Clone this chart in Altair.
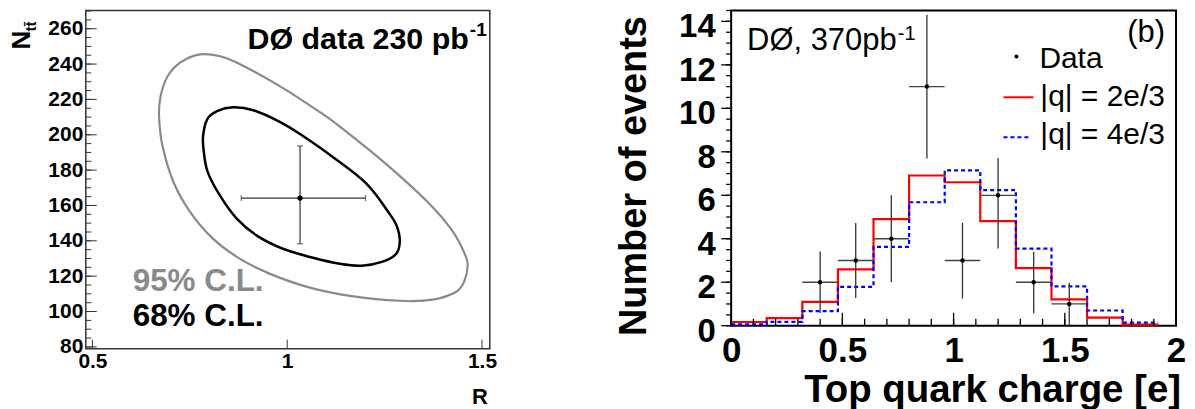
import altair as alt
import pandas as pd

F = "Liberation Sans"

# ---------------- Left panel data (R vs N_ttbar contours) ----------------
outer_R = [0.777, 0.726, 0.693, 0.675, 0.671, 0.680, 0.708, 0.751, 0.810, 0.879, 0.956,
           1.058, 1.161, 1.289, 1.373, 1.434, 1.455, 1.463, 1.458, 1.424, 1.358, 1.245,
           1.127, 1.084, 0.982, 0.879, 0.828]
outer_N = [245.5, 241.0, 233.1, 221.8, 210.5, 193.6, 173.3, 156.3, 141.1, 129.8, 121.3,
           113.5, 108.9, 106.1, 106.7, 111.2, 117.4, 125.3, 131.5, 145.6, 162.5, 185.1,
           206.0, 212.8, 227.4, 239.9, 244.4]
inner_R = [0.861, 0.820, 0.795, 0.784, 0.786, 0.796, 0.828, 0.871, 0.923, 0.989, 1.066,
           1.135, 1.191, 1.245, 1.280, 1.289, 1.281, 1.263, 1.204, 1.117, 1.033, 0.982,
           0.913]
inner_N = [215.6, 213.4, 208.9, 199.2, 190.2, 178.9, 165.4, 152.4, 142.8, 135.5, 130.4,
           127.0, 125.9, 128.2, 132.7, 140.0, 148.5, 155.2, 172.2, 187.4, 200.4, 207.2,
           213.9]
fit_R = [1.033]
fit_N = [164.2]
fit_R_lo = [0.882]
fit_R_hi = [1.201]
fit_N_lo = [138.3]
fit_N_hi = [193.7]
left_x_ticks = [0.5, 1.0, 1.5]
left_y_ticks = [80, 100, 120, 140, 160, 180, 200, 220, 240, 260]
left_y_minor = [80, 85, 90, 95, 100, 105, 110, 115, 120, 125, 130, 135, 140, 145, 150, 155,
                160, 165, 170, 175, 180, 185, 190, 195, 200, 205, 210, 215, 220, 225, 230,
                235, 240, 245, 250, 255, 260, 265, 270]

# ---------------- Right panel data (top quark charge) ----------------
edges = [0.0, 0.16, 0.32, 0.48, 0.64, 0.80, 0.96, 1.12, 1.28, 1.44, 1.60, 1.76, 1.92]
red_vals = [0.17, 0.35, 1.10, 2.59, 4.90, 6.91, 6.60, 4.81, 2.65, 1.21, 0.37, 0.05]
blue_vals = [0.06, 0.18, 0.67, 1.79, 3.63, 5.68, 7.15, 6.24, 3.55, 1.81, 0.70, 0.14]
data_x = [0.40, 0.56, 0.72, 0.88, 1.04, 1.20, 1.36, 1.52]
data_x_lo = [0.32, 0.48, 0.64, 0.80, 0.96, 1.12, 1.28, 1.44]
data_x_hi = [0.48, 0.64, 0.80, 0.96, 1.12, 1.28, 1.44, 1.60]
data_y = [2, 3, 4, 11, 3, 6, 2, 1]
data_lo = [0.59, 1.27, 2.0, 7.69, 1.25, 3.55, 0.57, 0.0]
data_hi = [3.41, 4.73, 6.0, 14.3, 4.73, 7.72, 3.39, 1.98]
right_x_ticks = [0, 0.5, 1, 1.5, 2]
right_x_minor = [0, 0.1, 0.2, 0.3, 0.4, 0.5, 0.6, 0.7, 0.8, 0.9, 1.0, 1.1, 1.2, 1.3, 1.4,
                 1.5, 1.6, 1.7, 1.8, 1.9, 2.0]
right_y_ticks = [0, 2, 4, 6, 8, 10, 12, 14]
right_y_minor = [0, 0.5, 1, 1.5, 2, 2.5, 3, 3.5, 4, 4.5, 5, 5.5, 6, 6.5, 7, 7.5, 8, 8.5, 9,
                 9.5, 10, 10.5, 11, 11.5, 12, 12.5, 13, 13.5, 14, 14.5]

# ---------------- geometry ----------------
LW, LH = 405, 339
RW, RH = 446, 316


def txt(s, x, y, size, weight="normal", align="left", color="black", angle=0):
    return alt.Chart(pd.DataFrame({"t": [s]})).mark_text(
        font=F, fontSize=size, fontWeight=weight, align=align, baseline="alphabetic",
        color=color, angle=angle
    ).encode(x=alt.value(x), y=alt.value(y), text="t:N")


def yticks(vals, scale, x1, x2, color="black", w=1.0):
    return alt.Chart(pd.DataFrame({"v": vals})).mark_rule(color=color, strokeWidth=w).encode(
        y=alt.Y("v:Q", scale=scale, axis=None), x=alt.value(x1), x2=alt.value(x2))


def xticks(vals, scale, y1, y2, color="black", w=1.0):
    return alt.Chart(pd.DataFrame({"v": vals})).mark_rule(color=color, strokeWidth=w).encode(
        x=alt.X("v:Q", scale=scale, axis=None), y=alt.value(y1), y2=alt.value(y2))


# ================= LEFT PANEL =================
xL = alt.Scale(domain=[0.483, 1.52], nice=False, zero=False)
yL = alt.Scale(domain=[79, 270.3], nice=False, zero=False)

outer_df = pd.DataFrame({"R": outer_R, "N": outer_N, "i": list(range(len(outer_R)))})
inner_df = pd.DataFrame({"R": inner_R, "N": inner_N, "i": list(range(len(inner_R)))})
fit_df = pd.DataFrame({"R": fit_R, "N": fit_N, "Rlo": fit_R_lo, "Rhi": fit_R_hi,
                       "Nlo": fit_N_lo, "Nhi": fit_N_hi})

lab_x_L = alt.Axis(values=left_x_ticks, ticks=False, tickSize=0, domain=False, grid=False,
                   labelFont=F, labelFontSize=21, labelFontWeight="bold", labelColor="black",
                   labelPadding=2, labelFlush=False, labelOverlap=False, title=None,
                   format="~g")
lab_y_L = alt.Axis(values=left_y_ticks, ticks=False, tickSize=0, domain=False, grid=False,
                   labelFont=F, labelFontSize=21, labelFontWeight="bold", labelColor="black",
                   labelPadding=3, labelFlush=False, labelOverlap=False, title=None)

outer = alt.Chart(outer_df).mark_line(interpolate="cardinal-closed", color="#8a8a8a",
                                      strokeWidth=2.2).encode(
    x=alt.X("R:Q", scale=xL, axis=lab_x_L),
    y=alt.Y("N:Q", scale=yL, axis=lab_y_L),
    order="i:Q",
)
inner = alt.Chart(inner_df).mark_line(interpolate="cardinal-closed", color="black",
                                      strokeWidth=2.5).encode(
    x=alt.X("R:Q", scale=xL, axis=None),
    y=alt.Y("N:Q", scale=yL, axis=None),
    order="i:Q",
)
fit_h = alt.Chart(fit_df).mark_rule(color="#333", strokeWidth=1.2).encode(
    x=alt.X("Rlo:Q", scale=xL, axis=None), x2="Rhi:Q",
    y=alt.Y("N:Q", scale=yL, axis=None),
)
fit_v = alt.Chart(fit_df).mark_rule(color="#333", strokeWidth=1.2).encode(
    x=alt.X("R:Q", scale=xL, axis=None),
    y=alt.Y("Nlo:Q", scale=yL, axis=None), y2="Nhi:Q",
)
cap_lo_x = alt.Chart(fit_df).mark_tick(orient="vertical", size=6, color="#333", thickness=1.2).encode(
    x=alt.X("Rlo:Q", scale=xL, axis=None), y=alt.Y("N:Q", scale=yL, axis=None))
cap_hi_x = alt.Chart(fit_df).mark_tick(orient="vertical", size=6, color="#333", thickness=1.2).encode(
    x=alt.X("Rhi:Q", scale=xL, axis=None), y=alt.Y("N:Q", scale=yL, axis=None))
cap_lo_y = alt.Chart(fit_df).mark_tick(orient="horizontal", size=6, color="#333", thickness=1.2).encode(
    x=alt.X("R:Q", scale=xL, axis=None), y=alt.Y("Nlo:Q", scale=yL, axis=None))
cap_hi_y = alt.Chart(fit_df).mark_tick(orient="horizontal", size=6, color="#333", thickness=1.2).encode(
    x=alt.X("R:Q", scale=xL, axis=None), y=alt.Y("Nhi:Q", scale=yL, axis=None))
fit_pt = alt.Chart(fit_df).mark_point(filled=True, color="black", size=28, opacity=1).encode(
    x=alt.X("R:Q", scale=xL, axis=None), y=alt.Y("N:Q", scale=yL, axis=None))

left = alt.layer(
    outer, inner, fit_h, fit_v, cap_lo_x, cap_hi_x, cap_lo_y, cap_hi_y, fit_pt,
    yticks(left_y_ticks, yL, 0, 11, "#333"),
    yticks(left_y_minor, yL, 0, 5.5, "#333"),
    xticks(left_x_ticks, xL, LH, LH - 9, "#333"),
    txt("DØ data 230 pb", 384, 39, 30.5, "bold", "right"),
    txt("-1", 385, 26, 19, "bold"),
    txt("95% C.L.", 47, 281, 31.5, "bold", color="#8a8a8a"),
    txt("68% C.L.", 47, 316, 31.5, "bold"),
    txt("R", 403, 394, 22, "bold", "right"),
    txt("N", -56, 39, 26, "bold", angle=270),
    txt("tt\u0304", -50, 21, 15, "bold", angle=270),
).resolve_axis(x="independent", y="independent").properties(
    width=LW, height=LH,
    view=alt.ViewBackground(stroke="#333", strokeWidth=1.5, fill="white"),
)

# ================= RIGHT PANEL =================
xR = alt.Scale(domain=[0, 2], nice=False, zero=False)
yR = alt.Scale(domain=[0, 14.5], nice=False, zero=False)

red_df = pd.DataFrame({"x": edges, "y": red_vals + [red_vals[-1]]})
blue_df = pd.DataFrame({"x": edges, "y": blue_vals + [blue_vals[-1]]})
pts_df = pd.DataFrame({"x": data_x, "xlo": data_x_lo, "xhi": data_x_hi, "y": data_y,
                       "ylo": data_lo, "yhi": data_hi})

lab_x_R = alt.Axis(values=right_x_ticks, ticks=False, tickSize=0, domain=False, grid=False,
                   labelFont=F, labelFontSize=35, labelFontWeight="bold", labelColor="black",
                   labelPadding=8, labelFlush=False, labelOverlap=False, title=None,
                   format="~g")
lab_y_R = alt.Axis(values=right_y_ticks, ticks=False, tickSize=0, domain=False, grid=False,
                   labelFont=F, labelFontSize=33, labelFontWeight="bold", labelColor="black",
                   labelPadding=16, labelBaseline="alphabetic", labelOffset=15.5,
                   labelFlush=False, labelOverlap=False, title=None)

red = alt.Chart(red_df).mark_line(interpolate="step-after", color="#ff0000",
                                  strokeWidth=2.2).encode(
    x=alt.X("x:Q", scale=xR, axis=lab_x_R),
    y=alt.Y("y:Q", scale=yR, axis=lab_y_R),
)
blue = alt.Chart(blue_df).mark_line(interpolate="step-after", color="#0000ff",
                                    strokeWidth=2.2, strokeDash=[4, 3]).encode(
    x=alt.X("x:Q", scale=xR, axis=None),
    y=alt.Y("y:Q", scale=yR, axis=None),
)
err_h = alt.Chart(pts_df).mark_rule(color="#444", strokeWidth=1.3).encode(
    x=alt.X("xlo:Q", scale=xR, axis=None), x2="xhi:Q",
    y=alt.Y("y:Q", scale=yR, axis=None),
)
err_v = alt.Chart(pts_df).mark_rule(color="#333", strokeWidth=1.3).encode(
    x=alt.X("x:Q", scale=xR, axis=None),
    y=alt.Y("ylo:Q", scale=yR, axis=None), y2="yhi:Q",
)
pts = alt.Chart(pts_df).mark_point(filled=True, color="black", size=20, opacity=1).encode(
    x=alt.X("x:Q", scale=xR, axis=None), y=alt.Y("y:Q", scale=yR, axis=None))

leg_dot = alt.Chart(pd.DataFrame({"t": ["Data"]})).mark_point(
    filled=True, color="black", size=16, opacity=1).encode(x=alt.value(286), y=alt.value(46))
leg_red = alt.Chart(pd.DataFrame({"t": ["red"]})).mark_rule(color="#ff0000", strokeWidth=2).encode(
    x=alt.value(273), x2=alt.value(303), y=alt.value(87))
leg_blue = alt.Chart(pd.DataFrame({"t": ["blue"]})).mark_rule(
    color="#0000ff", strokeWidth=2, strokeDash=[4, 3]).encode(
    x=alt.value(273), x2=alt.value(301), y=alt.value(127))

right = alt.layer(
    red, blue, err_h, err_v, pts,
    yticks(right_y_ticks, yR, -10, 0, "black", 1.3),
    yticks(right_y_minor, yR, -5, 0, "black", 1.3),
    xticks(right_x_ticks, xR, RH, RH - 13, "black", 1.3),
    xticks(right_x_minor, xR, RH, RH - 7, "black", 1.3),
    leg_dot, leg_red, leg_blue,
    txt("DØ, 370pb", 16, 40, 31),
    txt("-1", 167, 30, 20),
    txt("(b)", 435, 32, 31, align="right"),
    txt("Data", 309, 58, 30),
    txt("|q| = 2e/3", 310, 96, 30),
    txt("|q| = 4e/3", 310, 134, 30),
    txt("Number of events", -85, 166, 38, "bold", "center", angle=270),
    txt("Top quark charge [e]", 451, 392, 38.5, "bold", "right"),
).resolve_axis(x="independent", y="independent").properties(
    width=RW, height=RH,
    view=alt.ViewBackground(stroke="black", strokeWidth=2, fill="white"),
)

chart = alt.hconcat(left, right, spacing=242, bounds="flush").properties(
    padding=0, background="white"
)

chart.save("out.html", embed_options={"renderer": "svg", "actions": False})
